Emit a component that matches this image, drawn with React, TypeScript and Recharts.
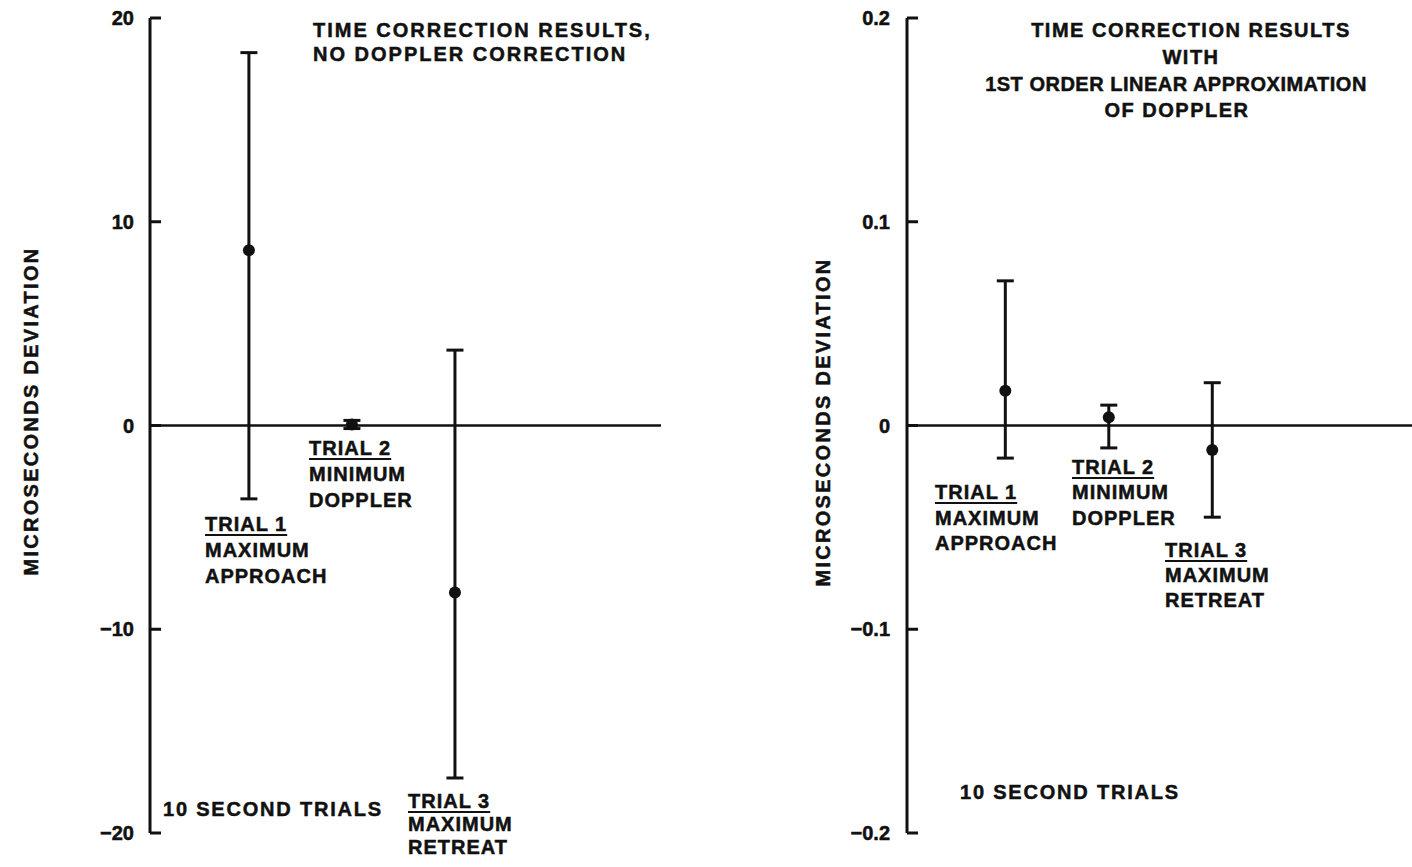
import { ScatterChart, Scatter, XAxis, YAxis, ErrorBar, ReferenceLine } from 'recharts';

// trial values
const trials = [1, 2, 3];

const leftMean = [8.6, 0.05, -8.2];
const leftHigh = [18.3, 0.25, 3.7];
const leftLow = [-3.6, -0.15, -17.3];
const leftTicks = [-20, -10, 0, 10, 20];

const rightMean = [0.017, 0.004, -0.012];
const rightHigh = [0.071, 0.01, 0.021];
const rightLow = [-0.016, -0.011, -0.045];
const rightTicks = [-0.2, -0.1, 0, 0.1, 0.2];

const FONT = '"Liberation Sans", Arial, Helvetica, sans-serif';
const INK = '#111';

const buildRows = (mean: number[], high: number[], low: number[]) =>
  trials.map((t, i) => ({
    x: t,
    y: mean[i],
    err: [mean[i] - low[i], high[i] - mean[i]],
  }));

const leftRows = buildRows(leftMean, leftHigh, leftLow);
const rightRows = buildRows(rightMean, rightHigh, rightLow);

const fmtMinus = (v: number) => (v < 0 ? `\u2212${Math.abs(v)}` : `${v}`);

const makeTick = (gap: number) => (props: any) => {
  const { x, y, payload } = props;
  return (
    <g>
      <line x1={x} x2={x + 11} y1={y} y2={y} stroke={INK} strokeWidth={3} />
      <text
        x={x - gap}
        y={y + 7}
        textAnchor="end"
        fontFamily={FONT}
        fontWeight="bold"
        fontSize={20}
        fill={INK}
        stroke={INK}
        strokeWidth={0.5}
      >
        {fmtMinus(payload.value)}
      </text>
    </g>
  );
};

const dot = (props: any) => <circle cx={props.cx} cy={props.cy} r={6} fill={INK} />;

type Note = { x: number; y: number; t: string; u?: boolean; center?: boolean; ls?: number };

const notes: Note[] = [
  { x: 313, y: 23, t: 'TIME CORRECTION RESULTS,', ls: 2 },
  { x: 313, y: 47, t: 'NO DOPPLER CORRECTION', ls: 2 },
  { x: 205, y: 517, t: 'TRIAL 1', u: true },
  { x: 205, y: 543, t: 'MAXIMUM' },
  { x: 205, y: 569, t: 'APPROACH' },
  { x: 309, y: 441, t: 'TRIAL 2', u: true },
  { x: 309, y: 467, t: 'MINIMUM' },
  { x: 309, y: 493, t: 'DOPPLER' },
  { x: 408, y: 794, t: 'TRIAL 3', u: true },
  { x: 408, y: 817, t: 'MAXIMUM' },
  { x: 408, y: 840, t: 'RETREAT' },
  { x: 163, y: 802, t: '10 SECOND TRIALS', ls: 1.8 },

  { x: 1191, y: 23, t: 'TIME CORRECTION RESULTS', center: true, ls: 1.5 },
  { x: 1191, y: 50, t: 'WITH', center: true, ls: 1.5 },
  { x: 1176, y: 77, t: '1ST ORDER LINEAR APPROXIMATION', center: true, ls: 0.5 },
  { x: 1177, y: 103, t: 'OF DOPPLER', center: true, ls: 1.5 },
  { x: 935, y: 485, t: 'TRIAL 1', u: true },
  { x: 935, y: 511, t: 'MAXIMUM' },
  { x: 935, y: 536, t: 'APPROACH' },
  { x: 1072, y: 460, t: 'TRIAL 2', u: true },
  { x: 1072, y: 485, t: 'MINIMUM' },
  { x: 1072, y: 511, t: 'DOPPLER' },
  { x: 1165, y: 543, t: 'TRIAL 3', u: true },
  { x: 1165, y: 568, t: 'MAXIMUM' },
  { x: 1165, y: 593, t: 'RETREAT' },
  { x: 960, y: 785, t: '10 SECOND TRIALS', ls: 1.8 },
];

function Panel({ rows, ticks, domainX, yAxisWidth, width, marginRight, tickGap }: any) {
  const yMin = ticks[0];
  const yMax = ticks[ticks.length - 1];
  return (
    <ScatterChart
      width={width}
      height={867}
      margin={{ top: 18, right: marginRight, bottom: 34, left: 0 }}
    >
      <XAxis type="number" dataKey="x" domain={domainX} hide />
      <YAxis
        type="number"
        dataKey="y"
        domain={[yMin, yMax]}
        ticks={ticks}
        width={yAxisWidth}
        tickSize={0}
        tickMargin={0}
        tickLine={false}
        axisLine={{ stroke: INK, strokeWidth: 3 }}
        tick={makeTick(tickGap)}
        interval={0}
      />
      <ReferenceLine y={0} stroke={INK} strokeWidth={2.5} />
      <Scatter data={rows} dataKey="y" shape={dot} isAnimationActive={false}>
        <ErrorBar
          dataKey="err"
          direction="y"
          width={8.5}
          stroke={INK}
          strokeWidth={3}
          isAnimationActive={false}
        />
      </Scatter>
    </ScatterChart>
  );
}

export default function App() {
  return (
    <div
      style={{
        position: 'absolute',
        left: 0,
        top: 0,
        width: 1412,
        height: 867,
        background: '#fff',
        overflow: 'hidden',
        fontFamily: FONT,
        color: INK,
      }}
    >
      <div style={{ position: 'absolute', left: 0, top: 0 }}>
        <Panel
          rows={leftRows}
          ticks={leftTicks}
          domainX={[0.04, 5]}
          yAxisWidth={150}
          width={700}
          marginRight={39}
          tickGap={16}
        />
      </div>
      <div style={{ position: 'absolute', left: 700, top: 0 }}>
        <Panel
          rows={rightRows}
          ticks={rightTicks}
          domainX={[0.05, 4.93]}
          yAxisWidth={207}
          width={712}
          marginRight={0}
          tickGap={17}
        />
      </div>

      {[
        { cx: 31, cy: 411 },
        { cx: 823, cy: 422 },
      ].map((p, i) => (
        <div
          key={i}
          style={{
            position: 'absolute',
            left: p.cx,
            top: p.cy,
            transform: 'translate(-50%, -50%) rotate(-90deg)',
            whiteSpace: 'nowrap',
            fontSize: 20,
            fontWeight: 'bold',
            letterSpacing: 2.3,
            lineHeight: '20px',
            WebkitTextStroke: '0.5px #111',
          }}
        >
          MICROSECONDS DEVIATION
        </div>
      ))}

      {notes.map((n, i) => (
        <div
          key={i}
          style={{
            position: 'absolute',
            left: n.x,
            top: n.y - 3,
            transform: n.center ? 'translateX(-50%)' : undefined,
            whiteSpace: 'nowrap',
            fontSize: 20,
            fontWeight: 'bold',
            lineHeight: '20px',
            letterSpacing: n.ls ?? 1,
            WebkitTextStroke: '0.5px #111',
            textDecoration: n.u ? 'underline' : 'none',
            textDecorationThickness: n.u ? 2 : undefined,
            textUnderlineOffset: n.u ? 3 : undefined,
          }}
        >
          {n.t}
        </div>
      ))}
    </div>
  );
}
